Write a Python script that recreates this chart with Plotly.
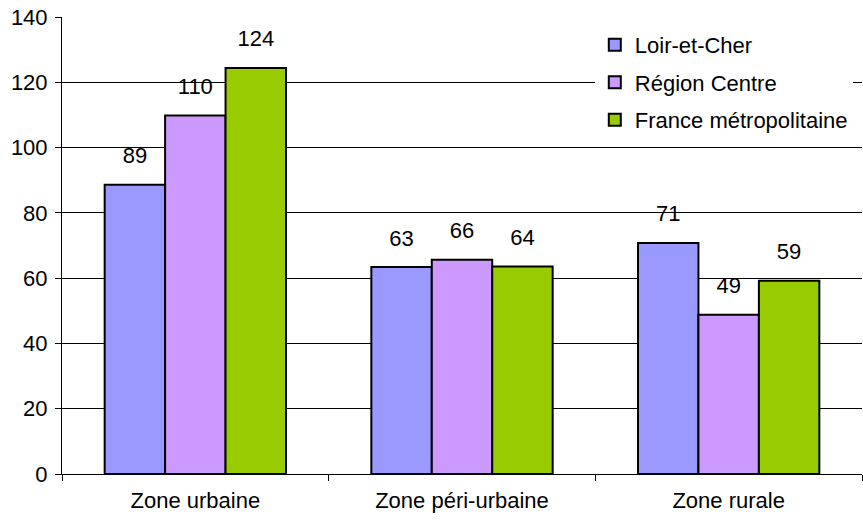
import plotly.graph_objects as go

categories = ["Zone urbaine", "Zone péri-urbaine", "Zone rurale"]
series_names = ["Loir-et-Cher", "Région Centre", "France métropolitaine"]
loir_et_cher = [88.6, 63.4, 70.8]
region_centre = [109.8, 65.6, 48.8]
france_metro = [124.4, 63.6, 59.2]
series_values = [loir_et_cher, region_centre, france_metro]
colors = ["#9999FF", "#CC99FF", "#99CC00"]
y_ticks = [0, 20, 40, 60, 80, 100, 120, 140]

FONT = "Liberation Sans, Arial, sans-serif"
FS = 22

fig = go.Figure()
for i, (name, vals, col) in enumerate(zip(series_names, series_values, colors)):
    fig.add_trace(go.Bar(
        x=categories, y=vals, name=name, marker_color=col,
        marker_line_color="black", marker_line_width=2,
        offsetgroup=str(i), legendgroup=str(i),
    ))
for i, vals in enumerate(series_values):
    fig.add_trace(go.Scatter(
        x=categories, y=vals, mode="markers+text",
        texttemplate="%{y:.0f}", textposition="top center",
        textfont=dict(family=FONT, size=FS, color="black"),
        marker=dict(size=24, opacity=0), offsetgroup=str(i),
        showlegend=False, hoverinfo="skip",
    ))

fig.update_layout(
    width=863, height=520,
    margin=dict(l=62, r=1, t=17, b=46),
    plot_bgcolor="white", paper_bgcolor="white",
    barmode="group", scattermode="group", bargap=0.32, bargroupgap=0,
    font=dict(family=FONT, size=FS, color="black"),
    legend=dict(x=0.666, y=0.985, xanchor="left", yanchor="top",
                bgcolor="white", borderwidth=0, tracegroupgap=6,
                font=dict(family=FONT, size=FS, color="black")),
    showlegend=True,
)
fig.update_xaxes(showline=True, linecolor="black", linewidth=1,
                 ticks="outside", tickson="boundaries", ticklen=6,
                 tickcolor="black", showgrid=False, automargin=False,
                 ticklabelstandoff=7,
                 tickfont=dict(family=FONT, size=FS, color="black"))
fig.update_yaxes(range=[0, 140], tickvals=y_ticks, showline=True,
                 linecolor="black", linewidth=1, ticks="outside", ticklen=6,
                 tickcolor="black", showgrid=True, gridcolor="black",
                 gridwidth=1, zeroline=False, automargin=False,
                 ticklabelstandoff=3,
                 tickfont=dict(family=FONT, size=FS, color="black"))

fig.write_html("out.html", config={"displayModeBar": False},
               post_script="document.body.style.margin='0';document.body.style.overflow='hidden';")
